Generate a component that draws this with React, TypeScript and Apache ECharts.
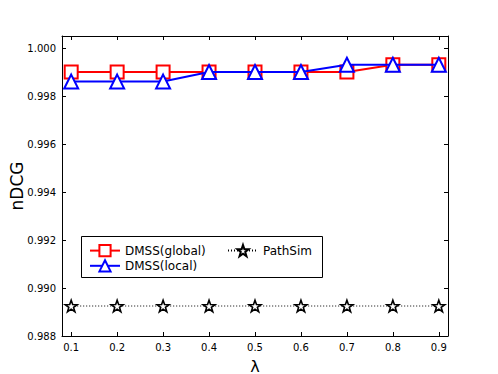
import React, { useEffect, useRef } from "react";
import * as echarts from "echarts";

const lambdas = [0.1, 0.2, 0.3, 0.4, 0.5, 0.6, 0.7, 0.8, 0.9];
const dmssGlobal = [0.999, 0.999, 0.999, 0.999, 0.999, 0.999, 0.999, 0.9993, 0.9993];
const dmssLocal = [0.9986, 0.9986, 0.9986, 0.999, 0.999, 0.999, 0.9993, 0.9993, 0.9993];
const pathSim = [0.98925, 0.98925, 0.98925, 0.98925, 0.98925, 0.98925, 0.98925, 0.98925, 0.98925];
const yTicks = [0.988, 0.99, 0.992, 0.994, 0.996, 0.998, 1.0];

const STAR =
  "path://M50,0L61.76,33.82L97.55,34.55L69.02,56.18L79.39,90.45L50,70L20.61,90.45L30.98,56.18L2.45,34.55L38.24,33.82Z";
const FONT = "DejaVu Sans";

export default function App() {
  const ref = useRef<HTMLDivElement>(null);
  useEffect(() => {
    const chart = echarts.init(ref.current!, null, { renderer: "svg" });
    const pairs = (arr: number[]) => lambdas.map((x, i) => [x, arr[i]]);
    const xBase = {
      type: "value",
      min: 0.08,
      max: 0.92,
      splitLine: { show: false },
      axisLine: { show: true, lineStyle: { color: "#000", width: 1 } },
      axisTick: { show: true, inside: true, length: 4, customValues: lambdas, lineStyle: { color: "#000" } },
    };
    const yBase = {
      type: "value",
      min: 0.988,
      max: 1.0005,
      splitLine: { show: false },
      axisLine: { show: true, lineStyle: { color: "#000", width: 1 } },
      axisTick: { show: true, inside: true, length: 4, customValues: yTicks, lineStyle: { color: "#000" } },
    };
    chart.setOption({
      animation: false,
      backgroundColor: "#fff",
      textStyle: { fontFamily: FONT },
      grid: { left: 62, right: 50, top: 36, bottom: 38, outerBoundsMode: "none", containLabel: false },
      xAxis: [
        {
          ...xBase,
          position: "bottom",
          name: "λ",
          nameLocation: "middle",
          nameGap: 22,
          nameMoveOverlap: false,
          nameTextStyle: { fontSize: 16, color: "#000", fontFamily: FONT },
          axisLabel: {
            customValues: lambdas,
            formatter: (v: number) => v.toFixed(1),
            color: "#000",
            fontSize: 10,
            fontFamily: FONT,
            margin: 6,
          },
        },
        { ...xBase, position: "top", axisLabel: { show: false } },
      ],
      yAxis: [
        {
          ...yBase,
          position: "left",
          name: "nDCG",
          nameLocation: "middle",
          nameGap: 37,
          nameMoveOverlap: false,
          nameTextStyle: { fontSize: 17, color: "#000", fontFamily: FONT, verticalAlign: "bottom" },
          axisLabel: {
            customValues: yTicks,
            formatter: (v: number) => v.toFixed(3),
            color: "#000",
            fontSize: 10,
            fontFamily: FONT,
            margin: 6,
          },
        },
        { ...yBase, position: "right", axisLabel: { show: false } },
      ],
      legend: [
        {
          data: ["DMSS(global)", "DMSS(local)"],
          orient: "vertical",
          left: 84,
          top: 239,
          itemWidth: 30,
          itemHeight: 14,
          itemGap: 2,
          textStyle: { fontSize: 12, color: "#000", fontFamily: FONT },
        },
        {
          data: ["PathSim"],
          orient: "vertical",
          left: 222,
          top: 239,
          itemWidth: 30,
          itemHeight: 14,
          textStyle: { fontSize: 12, color: "#000", fontFamily: FONT },
        },
      ],
      graphic: [
        {
          type: "rect",
          left: 81,
          top: 236,
          shape: { width: 241, height: 41 },
          style: { fill: "#fff", stroke: "#000", lineWidth: 1 },
          z: 0,
        },
      ],
      series: [
        {
          name: "DMSS(global)",
          type: "line",
          data: pairs(dmssGlobal),
          symbol: "rect",
          symbolSize: 13,
          lineStyle: { color: "#ff0000", width: 2 },
          itemStyle: { color: "#fff", borderColor: "#ff0000", borderWidth: 2 },
          color: "#ff0000",
          z: 3,
        },
        {
          name: "DMSS(local)",
          type: "line",
          data: pairs(dmssLocal),
          symbol: "triangle",
          symbolSize: 14,
          lineStyle: { color: "#0000ff", width: 2 },
          itemStyle: { color: "#fff", borderColor: "#0000ff", borderWidth: 2 },
          color: "#0000ff",
          z: 4,
        },
        {
          name: "PathSim",
          type: "line",
          data: pairs(pathSim),
          symbol: STAR,
          symbolSize: 12,
          symbolKeepAspect: true,
          lineStyle: { color: "#000", width: 1, type: [1, 2] },
          itemStyle: { color: "#fff", borderColor: "#000", borderWidth: 1.6 },
          color: "#000",
          z: 5,
        },
      ],
    });
    return () => chart.dispose();
  }, []);
  return (
    <div
      ref={ref}
      style={{ position: "fixed", left: 0, top: 0, width: 498, height: 374 }}
    />
  );
}
